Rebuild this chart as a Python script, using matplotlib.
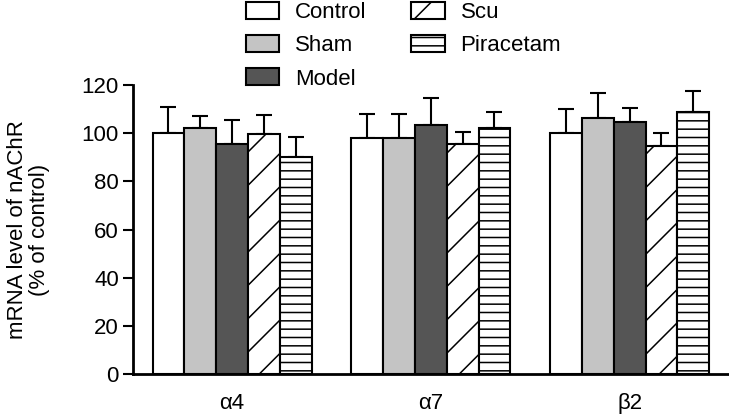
import numpy as np
import matplotlib.pyplot as plt

plt.rcParams['font.family'] = ['Liberation Sans', 'DejaVu Sans']
plt.rcParams['hatch.linewidth'] = 1.1

# data
receptors = ['α4', 'α7', 'β2']
groups = ['Control', 'Sham', 'Model', 'Scu', 'Piracetam']
means = {
    'Control':   [100, 98, 100],
    'Sham':      [102, 98, 106.5],
    'Model':     [95.5, 103.5, 104.5],
    'Scu':       [99.5, 95.5, 94.5],
    'Piracetam': [90, 102, 109],
}
errors = {
    'Control':   [11, 10, 10],
    'Sham':      [5, 10, 10],
    'Model':     [10, 11, 6],
    'Scu':       [8, 5, 5.5],
    'Piracetam': [8.5, 7, 8.5],
}

colors = ['white', '#c4c4c4', '#555555', 'white', 'white']
hatches = ['', '', '', '/', '--']
fs = 16

fig = plt.figure(figsize=(7.29, 4.17), dpi=100)
ax = fig.add_axes([0.182, 0.103, 0.818, 0.693])

x = np.arange(len(receptors))
width = 0.16
for i, g in enumerate(groups):
    pos = x + (i - 2) * width
    ax.bar(pos, means[g], width, color=colors[i], edgecolor='black',
           linewidth=1.5, hatch=hatches[i], label=g, zorder=2)
    ax.errorbar(pos, means[g], yerr=[np.zeros(len(x)), errors[g]], fmt='none',
                ecolor='black', elinewidth=1.5, capsize=5.5, capthick=1.5, zorder=1)

ax.set_xlim(-0.5, 2.5)
ax.set_ylim(0, 120)
ax.set_yticks(range(0, 121, 20))
ax.set_xticks(x)
ax.set_xticklabels(receptors)
ax.tick_params(axis='x', length=0, pad=14, labelsize=fs)
ax.tick_params(axis='y', length=7, width=1.5, labelsize=fs, pad=3)
ax.spines['top'].set_visible(False)
ax.spines['right'].set_visible(False)
ax.spines['left'].set_linewidth(2)
ax.spines['bottom'].set_linewidth(2)
ax.set_ylabel('mRNA level of nAChR\n(% of control)', fontsize=fs, linespacing=1.05)
ax.yaxis.set_label_coords(-0.139, 0.5)

fig.legend(loc='upper left', bbox_to_anchor=(246 / 729, 1 - 2 / 417), ncol=2,
           frameon=False, fontsize=fs, handlelength=1.5, handleheight=0.77,
           handletextpad=0.72, columnspacing=2.0, labelspacing=0.55, borderpad=0,
           borderaxespad=0)

plt.savefig('out.png', dpi=100)
